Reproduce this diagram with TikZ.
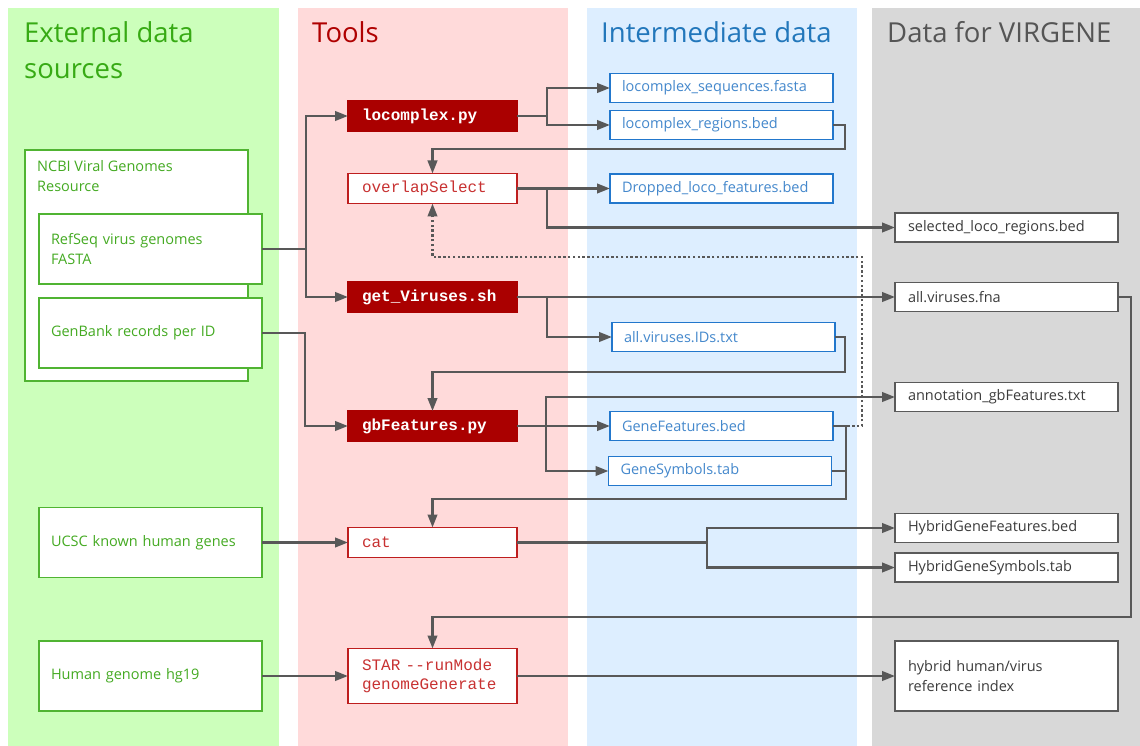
\documentclass[tikz,border=0pt]{standalone}
\usepackage{fontspec}
\setmainfont{Open Sans}
\setmonofont{Liberation Mono}
\usetikzlibrary{arrows.meta}

\definecolor{bgsrc}{RGB}{204,255,187}
\definecolor{bgtool}{RGB}{255,218,218}
\definecolor{bgmid}{RGB}{221,238,255}
\definecolor{bgout}{RGB}{216,216,216}
\definecolor{hdsrc}{RGB}{55,170,20}
\definecolor{hdtool}{RGB}{175,0,0}
\definecolor{hdmid}{RGB}{34,119,187}
\definecolor{hdout}{RGB}{85,85,85}
\definecolor{srctxt}{RGB}{68,170,34}
\definecolor{srcline}{RGB}{80,180,50}
\definecolor{toolfill}{RGB}{170,0,0}
\definecolor{tooltxt}{RGB}{200,50,50}
\definecolor{toolline}{RGB}{190,30,30}
\definecolor{midtxt}{RGB}{68,136,204}
\definecolor{midline}{RGB}{34,119,204}
\definecolor{outtxt}{RGB}{60,60,60}
\definecolor{outline}{RGB}{90,90,90}
\definecolor{wirec}{RGB}{88,88,88}

\newcommand{\bodytype}{\fontsize{14.5}{20}\selectfont}
\newcommand{\headtype}{\fontsize{27.5}{36}\selectfont}
\newcommand{\tooltype}{\ttfamily\fontsize{16}{19.5}\selectfont}

\begin{document}
\begin{tikzpicture}[x=1pt,y=-1pt,
  head/.style={anchor=base west, inner sep=0pt, font=\headtype, align=left},
  basebox/.style={rectangle, fill=white, line width=1.3pt, outer sep=0pt,
    inner ysep=0pt, align=left},
  srcbox/.style={basebox, draw=srcline, text=srctxt, font=\bodytype,
    minimum width=223pt, minimum height=70pt, inner xsep=12pt, text width=199pt},
  toolbox/.style={basebox, draw=toolfill, fill=toolfill, text=white,
    font=\tooltype\bfseries, minimum width=169pt, minimum height=30pt,
    inner xsep=14pt, text width=141pt},
  toolplain/.style={toolbox, draw=toolline, fill=white, text=tooltxt,
    font=\tooltype},
  midbox/.style={basebox, draw=midline, text=midtxt, font=\bodytype,
    minimum width=223pt, minimum height=29pt, inner xsep=12pt, text width=199pt},
  outbox/.style={basebox, draw=outline, text=outtxt, font=\bodytype,
    minimum width=223pt, minimum height=29pt, inner xsep=13pt, text width=197pt},
  wire/.style={draw=wirec, line width=2.4pt, -{Triangle[length=13pt,width=9.5pt]}},
  bare/.style={draw=wirec, line width=2.4pt},
  dotwire/.style={wire, dash pattern=on 2.4pt off 2.4pt}
]
\useasboundingbox (0,0) rectangle (1140,746);

% column backgrounds
\fill[bgsrc]  (8,8)   rectangle (279,746);
\fill[bgtool] (298,8) rectangle (568,746);
\fill[bgmid]  (587,8) rectangle (857,746);
\fill[bgout]  (872,8) rectangle (1140,746);

% column headings (base anchor sits on the last line)
\node[head, text=hdsrc]  (hsrc)  at (24,79)  {External data\\sources};
\node[head, text=hdtool] (htool) at (312,43) {Tools};
\node[head, text=hdmid]  (hmid)  at (601,43) {Intermediate data};
\node[head, text=hdout]  (hout)  at (887,43) {Data for VIRGENE};

% external sources
\node[basebox, draw=srcline, minimum width=223pt, minimum height=231pt,
  anchor=north west] (ncbi) at (25,150) {};
\node[anchor=north west, inner sep=0pt, font=\bodytype, text=srctxt, align=left]
  (ncbitxt) at (37,160) {NCBI Viral Genomes\\Resource};
\node[srcbox] (refseq)  at (150.5,249) {RefSeq virus genomes\\FASTA};
\node[srcbox] (genbank) at (150.5,333) {GenBank records per ID};
\node[srcbox] (ucsc)    at (150.5,542.5) {UCSC known human genes};
\node[srcbox] (hg19)    at (150.5,676) {Human genome hg19};

% tools
\node[toolbox]   (locomplex) at (432.5,116) {locomplex.py};
\node[toolplain] (overlap)   at (432.5,188.5) {overlapSelect};
\node[toolbox]   (getv)      at (432.5,297) {get\_Viruses.sh};
\node[toolbox]   (gbf)       at (432.5,426) {gbFeatures.py};
\node[toolplain] (cat)       at (432.5,542.5) {cat};
\node[toolplain, minimum height=55pt] (star) at (432.5,676)
  {STAR -{}-runMode\\genomeGenerate};

% intermediate data
\node[midbox] (lcseq)   at (721.5,88)  {locomplex\_sequences.fasta};
\node[midbox] (lcreg)   at (721.5,125) {locomplex\_regions.bed};
\node[midbox] (dropped) at (721.5,188.5) {Dropped\_loco\_features.bed};
\node[midbox] (ids)     at (723.5,337) {all.viruses.IDs.txt};
\node[midbox] (genef)   at (721.5,426) {GeneFeatures.bed};
\node[midbox] (genes)   at (720,471)   {GeneSymbols.tab};

% outputs
\node[outbox] (selloco) at (1006.5,227.5) {selected\_loco\_regions.bed};
\node[outbox] (allfna)  at (1006.5,297)   {all.viruses.fna};
\node[outbox] (annot)   at (1006.5,397)   {annotation\_gbFeatures.txt};
\node[outbox] (hgf)     at (1006.5,528)   {HybridGeneFeatures.bed};
\node[outbox] (hgs)     at (1006.5,567.5) {HybridGeneSymbols.tab};
\node[outbox, minimum height=70pt] (hybrid) at (1006.5,676)
  {hybrid human/virus\\reference index};

% connectors
\draw[wire] (refseq.east) -- ++(44,0) |- (locomplex.west);
\draw[wire] (refseq.east) -- ++(44,0) |- (getv.west);
\draw[wire] (genbank.east) -- ++(43,0) |- (gbf.west);

\draw[wire] (locomplex.east) -- ++(30,0) |- (lcseq.west);
\draw[wire] (locomplex.east) -- ++(30,0) |- (lcreg.west);
\draw[wire] (lcreg.east) -- ++(12,0) -- ++(0,24) -| (overlap.north);

\draw[wire] (overlap.east) -- (dropped.west);
\draw[wire] (overlap.east) -- ++(30,0) |- (selloco.west);

\draw[wire] (getv.east) -- (allfna.west);
\draw[wire] (getv.east) -- ++(30,0) |- (ids.west);
\draw[wire] (ids.east) -- ++(10,0) -- ++(0,35) -| (gbf.north);

\draw[wire] (gbf.east) -- (genef.west);
\draw[wire] (gbf.east) -- ++(29,0) |- (annot.west);
\draw[wire] (gbf.east) -- ++(29,0) |- (genes.west);

\draw[dotwire] (genef.east) -- ++(29,0) -- ++(0,-169) -| (overlap.south);

\draw[bare] (genes.east) -- ++(14,0);
\draw[wire] (genef.east) -- ++(13,0) -- ++(0,73) -| (cat.north);

\draw[wire] (ucsc.east) -- (cat.west);
\draw[wire] (cat.east) -- ++(190,0) |- (hgf.west);
\draw[wire] (cat.east) -- ++(190,0) |- (hgs.west);

\draw[wire] (allfna.east) -- ++(13,0) -- ++(0,320) -| (star.north);
\draw[wire] (hg19.east) -- (star.west);
\draw[wire] (star.east) -- (hybrid.west);
\end{tikzpicture}
\end{document}
